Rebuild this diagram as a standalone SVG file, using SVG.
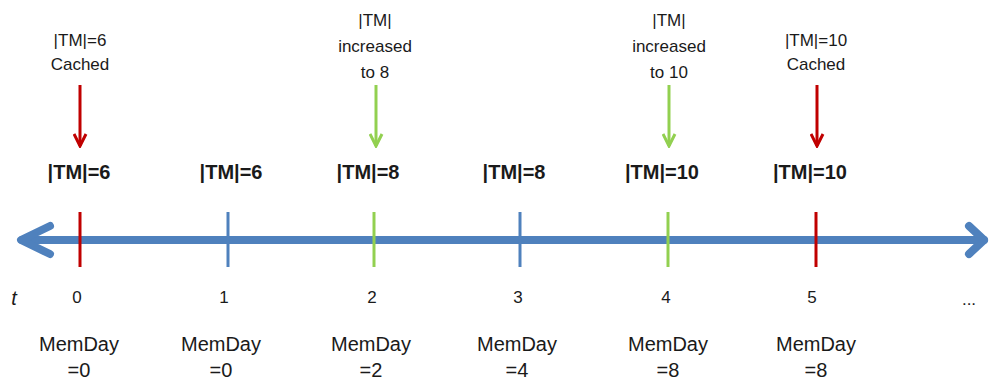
<svg xmlns="http://www.w3.org/2000/svg" width="989" height="382" viewBox="0 0 989 382">
<style>
text{font-family:"Liberation Sans","Open Sans",sans-serif;fill:#1a1a1a;text-anchor:middle}
.top{font-size:17px}
.tm{font-size:20px;font-weight:bold}
.num{font-size:17px}
.md{font-size:20px}
.axis{stroke:#4F81BD;stroke-width:8;fill:none;stroke-linecap:round;stroke-linejoin:round}
.tick{stroke-width:3}
.red{stroke:#C00000}
.green{stroke:#92D050}
.blue{stroke:#4F81BD}
</style>
<defs>
<marker id="ar" viewBox="0 0 10 10" refX="9" refY="5" markerWidth="5" markerHeight="5" orient="auto" markerUnits="strokeWidth"><path d="M1,1 L9,5 L1,9" fill="none" stroke="#C00000" stroke-width="2"/></marker>
<marker id="ag" viewBox="0 0 10 10" refX="9" refY="5" markerWidth="5" markerHeight="5" orient="auto" markerUnits="strokeWidth"><path d="M1,1 L9,5 L1,9" fill="none" stroke="#92D050" stroke-width="2"/></marker>
</defs>
<g id="connectors">
<line class="axis" x1="22" y1="240" x2="984" y2="240"/>
<polyline class="axis" points="50,226 21,240 50,254"/>
<polyline class="axis" points="969,226 984,240 969,254"/>
<line class="red" stroke-width="3" x1="80" y1="85" x2="80" y2="146" marker-end="url(#ar)"/>
<line class="green" stroke-width="3" x1="376" y1="85" x2="376" y2="146" marker-end="url(#ag)"/>
<line class="green" stroke-width="3" x1="669" y1="85" x2="669" y2="146" marker-end="url(#ag)"/>
<line class="red" stroke-width="3" x1="817" y1="85" x2="817" y2="146" marker-end="url(#ar)"/>
</g>
<g id="t0">
<text class="top" x="80" y="46">|TM|=6</text><text class="top" x="80" y="70">Cached</text>
<text class="tm" x="79" y="179">|TM|=6</text>
<line class="tick red" x1="80" y1="212" x2="80" y2="267"/>
<text class="num" x="77" y="303">0</text>
<text class="md" x="79" y="351">MemDay</text><text class="md" x="79" y="377">=0</text>
</g>
<g id="t1">
<text class="tm" x="231" y="179">|TM|=6</text>
<line class="tick blue" x1="228" y1="212" x2="228" y2="267"/>
<text class="num" x="224" y="303">1</text>
<text class="md" x="221" y="351">MemDay</text><text class="md" x="221" y="377">=0</text>
</g>
<g id="t2">
<text class="top" x="375" y="26">|TM|</text><text class="top" x="375" y="52">increased</text><text class="top" x="375" y="78">to 8</text>
<text class="tm" x="368" y="179">|TM|=8</text>
<line class="tick green" x1="374" y1="212" x2="374" y2="267"/>
<text class="num" x="372" y="303">2</text>
<text class="md" x="371" y="351">MemDay</text><text class="md" x="371" y="377">=2</text>
</g>
<g id="t3">
<text class="tm" x="514" y="179">|TM|=8</text>
<line class="tick blue" x1="520" y1="212" x2="520" y2="267"/>
<text class="num" x="518" y="303">3</text>
<text class="md" x="517" y="351">MemDay</text><text class="md" x="517" y="377">=4</text>
</g>
<g id="t4">
<text class="top" x="669" y="26">|TM|</text><text class="top" x="669" y="52">increased</text><text class="top" x="669" y="78">to 10</text>
<text class="tm" x="662" y="179">|TM|=10</text>
<line class="tick green" x1="668" y1="212" x2="668" y2="267"/>
<text class="num" x="666" y="303">4</text>
<text class="md" x="668" y="351">MemDay</text><text class="md" x="668" y="377">=8</text>
</g>
<g id="t5">
<text class="top" x="816" y="46">|TM|=10</text><text class="top" x="816" y="70">Cached</text>
<text class="tm" x="810" y="179">|TM|=10</text>
<line class="tick red" x1="816" y1="212" x2="816" y2="267"/>
<text class="num" x="812" y="303">5</text>
<text class="md" x="816" y="351">MemDay</text><text class="md" x="816" y="377">=8</text>
</g>
<g id="labels">
<text x="14" y="305" style="font-size:20px;font-style:italic">t</text>
<text class="num" x="969" y="305">...</text>
</g>
</svg>
